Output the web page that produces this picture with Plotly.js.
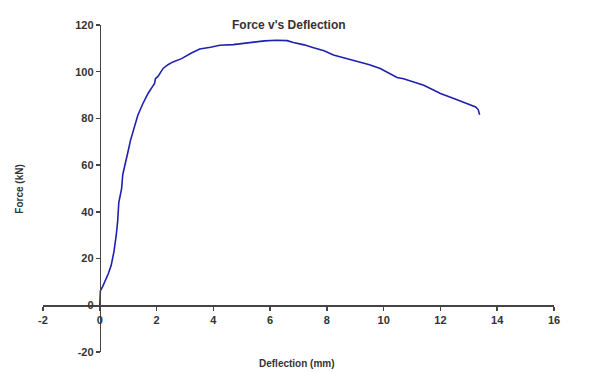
<!DOCTYPE html>
<html>
<head>
<meta charset="utf-8">
<script src="https://cdn.plot.ly/plotly-3.0.1.min.js"></script>
<style>html,body{margin:0;padding:0;background:#fff;}#chart{width:600px;height:372px;}</style>
</head>
<body>
<div id="chart"></div>
<script>
const deflection = [0, 0.01, 0.02, 0.10, 0.20, 0.30, 0.40, 0.50, 0.58, 0.63, 0.67, 0.72, 0.77, 0.81, 0.86, 0.92, 0.98, 1.08, 1.20, 1.34, 1.52, 1.70, 1.85, 1.93, 1.96, 2.05, 2.23, 2.40, 2.58, 2.88, 3.23, 3.52, 3.90, 4.23, 4.70, 5.29, 5.80, 6.23, 6.60, 6.82, 7.20, 7.53, 7.90, 8.23, 8.60, 9.06, 9.50, 9.88, 10.24, 10.47, 10.70, 11.06, 11.41, 11.70, 12.00, 12.47, 12.95, 13.24, 13.33, 13.38];
const force = [0, 3, 6.2, 8, 10.5, 13.5, 17, 23, 30, 36, 44, 47, 50, 56, 59, 62, 65, 70.5, 76, 81.4, 86.4, 90.7, 93.5, 95, 97, 98, 101.4, 103, 104.2, 105.6, 108, 109.7, 110.5, 111.3, 111.6, 112.5, 113.2, 113.5, 113.3, 112.5, 111.5, 110.3, 109, 107.2, 106, 104.2, 103, 101.4, 99.2, 97.5, 97, 95.6, 94.2, 92.5, 90.7, 88.5, 86.4, 84.9, 83.8, 81.6];
const xTicks = [-2, 0, 2, 4, 6, 8, 10, 12, 14, 16];
const yTicks = [-20, 0, 20, 40, 60, 80, 100, 120];
const xRange = [-2, 16];
const yRange = [-20, 120];

const tickFont = {family: 'Liberation Sans, Arial, sans-serif', size: 11, color: '#333', weight: 'bold'};
const yPosX = (0 - xRange[0]) / (xRange[1] - xRange[0]);
const xPosY = (0 - yRange[0]) / (yRange[1] - yRange[0]);

const trace = {
  x: deflection, y: force, type: 'scatter', mode: 'lines',
  line: {color: '#2020b0', width: 1.6}, hoverinfo: 'skip'
};

const layout = {
  width: 600, height: 372,
  margin: {l: 43, r: 46, t: 25, b: 20},
  paper_bgcolor: '#fff', plot_bgcolor: '#fff',
  showlegend: false,
  xaxis: {
    range: xRange, tickvals: xTicks, ticktext: xTicks.map(String),
    anchor: 'free', position: xPosY,
    showgrid: false, zeroline: false, showline: true,
    linecolor: '#444', linewidth: 1.5, ticks: 'outside', ticklen: 4, tickcolor: '#444', tickwidth: 1.5,
    tickfont: tickFont
  },
  yaxis: {
    range: yRange, tickvals: yTicks, ticktext: yTicks.map(String),
    anchor: 'free', position: yPosX,
    showgrid: false, zeroline: false, showline: true,
    linecolor: '#444', linewidth: 1.5, ticks: 'outside', ticklen: 4, tickcolor: '#444', tickwidth: 1.5,
    tickfont: tickFont
  },
  annotations: [
    {text: "Force v's Deflection", xref: 'paper', yref: 'paper', x: 0.481, y: 1, yshift: 0,
     xanchor: 'center', yanchor: 'middle', showarrow: false,
     font: {family: 'Liberation Sans, Arial, sans-serif', size: 12, color: '#333', weight: 'bold'}},
    {text: 'Deflection (mm)', xref: 'paper', yref: 'paper', x: 0.498, y: 0, yshift: -11,
     xanchor: 'center', yanchor: 'middle', showarrow: false,
     font: {family: 'Liberation Sans, Arial, sans-serif', size: 10, color: '#333', weight: 'bold'}},
    {text: 'Force (kN)', xref: 'paper', yref: 'paper', x: 0, xshift: -23.5, y: 0.498,
     xanchor: 'center', yanchor: 'middle', textangle: -90, showarrow: false,
     font: {family: 'Liberation Sans, Arial, sans-serif', size: 10, color: '#333', weight: 'bold'}}
  ]
};

Plotly.newPlot('chart', [trace], layout, {staticPlot: true, displayModeBar: false});
</script>
</body>
</html>
